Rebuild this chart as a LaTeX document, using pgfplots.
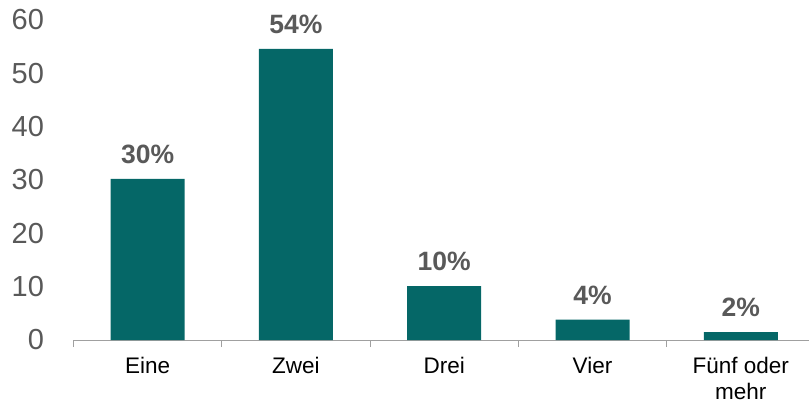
\documentclass[border=0pt]{standalone}
\usepackage{pgfplots}
\pgfplotsset{compat=1.18}
\usepackage{fontspec}
\setmainfont{Liberation Sans}
\definecolor{barteal}{RGB}{5,103,103}
\definecolor{labgray}{RGB}{89,89,89}
\definecolor{axgray}{RGB}{160,160,160}
\begin{document}
\begin{tikzpicture}
\begin{axis}[
  scale only axis,
  width=735.5pt, height=320pt,
  xmin=-0.5, xmax=4.46,
  ymin=0, ymax=60,
  ytick={0,10,20,30,40,50,60},
  xtick={0,1,2,3,4},
  xticklabels={Eine,Zwei,Drei,Vier,{Fünf oder\\mehr}},
  minor xtick={-0.5,0.5,1.5,2.5,3.5},
  axis x line=bottom,
  axis y line=left,
  x axis line style={-, draw=axgray, line width=1pt},
  y axis line style={draw=none},
  ytick style={draw=none},
  xtick style={draw=none},
  minor x tick style={draw=axgray, line width=1pt},
  tick align=outside,
  minor tick length=7pt,
  major tick length=0pt,
  /pgf/number format/assume math mode=true,
  yticklabel style={font=\fontsize{29}{31}\selectfont, text=labgray, anchor=east, xshift=-26pt},
  xticklabel style={font=\fontsize{22.5}{26}\selectfont, text=black, align=center, anchor=north, yshift=-14pt},
  ybar, bar width=74pt,
  nodes near coords,
  point meta=explicit symbolic,
  every node near coord/.append style={font=\bfseries\fontsize{26.5}{28}\selectfont, text=labgray, anchor=south, inner sep=0pt, yshift=15pt},
  clip=false,
]
\addplot[fill=barteal, draw=none] table[meta=lab] {
x y lab
0 30.2 30\%
1 54.6 54\%
2 10.1 10\%
3 3.8 4\%
4 1.5 2\%
};
\end{axis}
\pgfresetboundingbox
\path[use as bounding box] (-73.5pt,-68pt) rectangle (735.5pt,340pt);
\end{tikzpicture}
\end{document}
